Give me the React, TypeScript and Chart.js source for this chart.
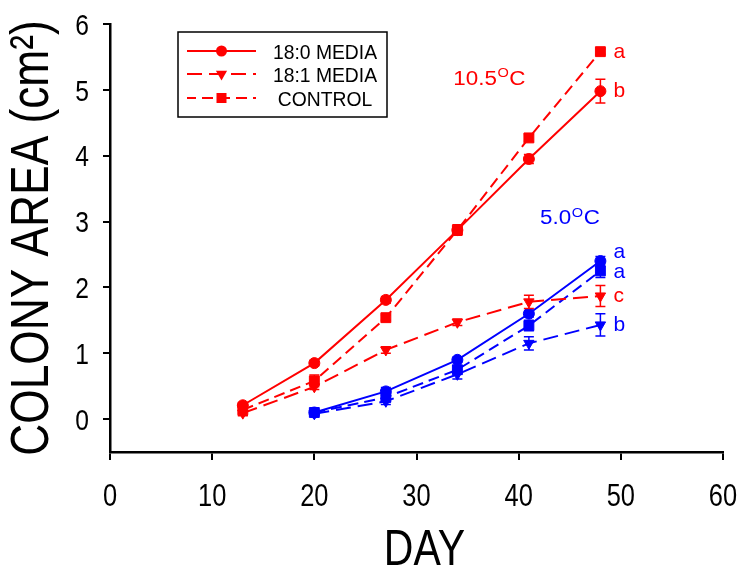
import React, { useEffect, useRef } from "react";
import { Chart, registerables } from "chart.js";

Chart.register(...registerables);

const RED = "#ff0000";
const BLUE = "#0000ff";
const BLACK = "#000000";

// ---- data ----
const warmDays = [13, 20, 27, 34, 41, 48];
const coldDays = [20, 27, 34, 41, 48];

const warm180 = [0.21, 0.85, 1.81, 2.87, 3.95, 4.98];
const warm180Err = [0.04, 0.04, 0.05, 0.05, 0.07, 0.18];
const warm181 = [0.09, 0.49, 1.05, 1.47, 1.78, 1.87];
const warm181Err = [0.04, 0.04, 0.05, 0.05, 0.1, 0.16];
const warmCtl = [0.14, 0.58, 1.54, 2.87, 4.27, 5.58];
const warmCtlErr = [0.08, 0.09, 0.04, 0.08, 0.05, 0.04];

const cold180 = [0.1, 0.42, 0.9, 1.6, 2.4];
const cold180Err = [0.03, 0.06, 0.04, 0.05, 0.07];
const cold181 = [0.08, 0.27, 0.68, 1.15, 1.43];
const cold181Err = [0.02, 0.05, 0.07, 0.1, 0.17];
const coldCtl = [0.1, 0.33, 0.75, 1.42, 2.25];
const coldCtlErr = [0.03, 0.07, 0.06, 0.08, 0.1];

const seriesNames = ["18:0 MEDIA", "18:1 MEDIA", "CONTROL"];

const xTickValues = [0, 10, 20, 30, 40, 50, 60];
const yTickValues = [0, 1, 2, 3, 4, 5, 6];
const xTitle = "DAY";
const yTitle = "COLONY AREA (cm\u00B2)";

const letterTexts = ["a", "b", "a", "a", "c", "b"];
const letterValues = [5.58, 4.98, 2.54, 2.23, 1.87, 1.43];
const letterDay = 48;

const tempTexts = ["10.5", "5.0"];
const tempDays = [33.6, 42.1];
const tempValues = [5.08, 2.96];

// ---- styles ----
const letterColors = [RED, RED, BLUE, BLUE, RED, BLUE];
const tempColors = [RED, BLUE];
const styleSolid: number[] = [];
const style181: number[] = [15, 7];
const styleCtl: number[] = [11, 6];

const SANS = '"Liberation Sans", Arial, Helvetica, sans-serif';

function squeezeText(
  ctx: CanvasRenderingContext2D,
  text: string,
  x: number,
  y: number,
  size: number,
  align: CanvasTextAlign,
  color: string,
  rot = 0,
  sx = 0.82
) {
  ctx.save();
  ctx.translate(x, y);
  if (rot) ctx.rotate(rot);
  ctx.scale(sx, 1);
  ctx.font = `${size}px ${SANS}`;
  ctx.fillStyle = color;
  ctx.textAlign = align;
  ctx.textBaseline = "alphabetic";
  ctx.fillText(text, 0, 0);
  ctx.restore();
}

function drawMarker(ctx: CanvasRenderingContext2D, style: string, x: number, y: number, color: string) {
  ctx.save();
  ctx.fillStyle = color;
  ctx.setLineDash([]);
  ctx.beginPath();
  if (style === "circle") {
    ctx.arc(x, y, 5.5, 0, Math.PI * 2);
  } else if (style === "rect") {
    ctx.rect(x - 5, y - 5, 10, 10);
  } else {
    ctx.moveTo(x - 5.6, y - 3.2);
    ctx.lineTo(x + 5.6, y - 3.2);
    ctx.lineTo(x, y + 6.5);
    ctx.closePath();
  }
  ctx.fill();
  ctx.restore();
}

const errorBarPlugin = {
  id: "errorBars",
  afterDatasetsDraw(chart: any) {
    const { ctx } = chart;
    const xs = chart.scales.x;
    const ys = chart.scales.y;
    chart.data.datasets.forEach((ds: any) => {
      if (!ds.errors) return;
      ctx.save();
      ctx.strokeStyle = ds.borderColor;
      ctx.lineWidth = 1.5;
      ctx.setLineDash([]);
      ds.data.forEach((p: any, j: number) => {
        const e = ds.errors[j];
        if (!e) return;
        const px = xs.getPixelForValue(p.x);
        const t = ys.getPixelForValue(p.y + e);
        const b = ys.getPixelForValue(p.y - e);
        ctx.beginPath();
        ctx.moveTo(px, t);
        ctx.lineTo(px, b);
        ctx.moveTo(px - 5, t);
        ctx.lineTo(px + 5, t);
        ctx.moveTo(px - 5, b);
        ctx.lineTo(px + 5, b);
        ctx.stroke();
      });
      ctx.restore();
    });
  },
};

const textPlugin = {
  id: "texts",
  afterDraw(chart: any) {
    const { ctx } = chart;
    const xs = chart.scales.x;
    const ys = chart.scales.y;

    // tick labels
    xTickValues.forEach((v) => {
      squeezeText(ctx, String(v), xs.getPixelForValue(v), 506, 31, "center", BLACK);
    });
    yTickValues.forEach((v) => {
      const py = ys.getPixelForValue(v);
      squeezeText(ctx, String(v), 89, py + 0.716 * 30 / 2, 30, "right", BLACK);
    });

    // titles
    squeezeText(ctx, xTitle, (xs.left + xs.right) / 2 + 8, 565, 50, "center", BLACK);
    squeezeText(ctx, yTitle, 48, (ys.top + ys.bottom) / 2, 54, "center", BLACK, -Math.PI / 2);

    // significance letters
    letterTexts.forEach((t, i) => {
      const px = xs.getPixelForValue(letterDay) + 13;
      const py = ys.getPixelForValue(letterValues[i]) + 6;
      ctx.save();
      ctx.font = `21px ${SANS}`;
      ctx.fillStyle = letterColors[i];
      ctx.textAlign = "left";
      ctx.textBaseline = "alphabetic";
      ctx.fillText(t, px, py);
      ctx.restore();
    });

    // temperature labels (slightly widened like the original)
    tempTexts.forEach((t, i) => {
      const px0 = xs.getPixelForValue(tempDays[i]);
      const py = ys.getPixelForValue(tempValues[i]);
      ctx.save();
      ctx.translate(px0, py);
      ctx.scale(1.12, 1);
      ctx.fillStyle = tempColors[i];
      ctx.textAlign = "left";
      ctx.textBaseline = "alphabetic";
      ctx.font = `20px ${SANS}`;
      ctx.fillText(t, 0, 0);
      let px = ctx.measureText(t).width + 0.5;
      ctx.font = `13px ${SANS}`;
      ctx.fillText("O", px, -7.5);
      px += ctx.measureText("O").width + 0.5;
      ctx.font = `20px ${SANS}`;
      ctx.fillText("C", px, 0);
      ctx.restore();
    });

    // legend
    const L = 178, T = 32, W = 209, H = 85;
    ctx.save();
    ctx.strokeStyle = BLACK;
    ctx.lineWidth = 1.5;
    ctx.setLineDash([]);
    ctx.strokeRect(L, T, W, H);
    const rows = [51, 74, 98];
    const dashes = [styleSolid, style181, styleCtl];
    const markers = ["circle", "triangle", "rect"];
    rows.forEach((ry, i) => {
      ctx.save();
      ctx.strokeStyle = RED;
      ctx.lineWidth = 2;
      ctx.setLineDash(dashes[i]);
      ctx.lineDashOffset = i === 1 ? 0 : 2;
      ctx.beginPath();
      ctx.moveTo(187, ry);
      ctx.lineTo(256, ry);
      ctx.stroke();
      ctx.restore();
      drawMarker(ctx, markers[i], 221.5, ry, RED);
      squeezeText(ctx, seriesNames[i], 325, ry + 7.5, 21, "center", BLACK, 0, 0.92);
    });
    ctx.restore();
  },
};

function makeSet(label: string, days: number[], vals: number[], errs: number[], color: string, dash: number[], pstyle: string, r: number, rot = 0) {
  return {
    label,
    data: days.map((d, i) => ({ x: d, y: vals[i] })),
    errors: errs,
    borderColor: color,
    backgroundColor: color,
    borderWidth: 2,
    borderDash: dash,
    pointStyle: pstyle,
    pointRadius: r,
    pointBorderWidth: 1,
    pointRotation: rot,
    showLine: true,
    tension: 0,
  } as any;
}

export default function App() {
  const ref = useRef<HTMLCanvasElement | null>(null);

  useEffect(() => {
    document.body.style.margin = "0";
    const canvas = ref.current;
    if (!canvas) return;
    const chart = new Chart(canvas, {
      type: "scatter",
      data: {
        datasets: [
          makeSet(seriesNames[0] + " 10.5", warmDays, warm180, warm180Err, RED, styleSolid, "circle", 5.5),
          makeSet(seriesNames[1] + " 10.5", warmDays, warm181, warm181Err, RED, style181, "triangle", 6, 180),
          makeSet(seriesNames[2] + " 10.5", warmDays, warmCtl, warmCtlErr, RED, styleCtl, "rect", 7),
          makeSet(seriesNames[0] + " 5.0", coldDays, cold180, cold180Err, BLUE, styleSolid, "circle", 5.5),
          makeSet(seriesNames[1] + " 5.0", coldDays, cold181, cold181Err, BLUE, style181, "triangle", 6, 180),
          makeSet(seriesNames[2] + " 5.0", coldDays, coldCtl, coldCtlErr, BLUE, styleCtl, "rect", 7),
        ],
      },
      options: {
        responsive: false,
        animation: false,
        devicePixelRatio: 1,
        layout: { padding: { top: 24, right: 17, bottom: 0, left: 0 } },
        plugins: {
          legend: { display: false },
          tooltip: { enabled: false },
          title: { display: false },
        },
        scales: {
          x: {
            type: "linear",
            min: 0,
            max: 60,
            afterBuildTicks: (s: any) => {
              s.ticks = xTickValues.map((v) => ({ value: v }));
            },
            afterFit: (s: any) => {
              s.height = 116;
            },
            ticks: { display: false },
            grid: { drawOnChartArea: false, drawTicks: true, tickLength: 8, color: BLACK, lineWidth: 2 },
            border: { display: true, color: BLACK, width: 2.5 },
          },
          y: {
            type: "linear",
            min: -0.5,
            max: 6,
            afterBuildTicks: (s: any) => {
              s.ticks = yTickValues.map((v) => ({ value: v }));
            },
            afterFit: (s: any) => {
              s.width = 110;
            },
            ticks: { display: false },
            grid: { drawOnChartArea: false, drawTicks: true, tickLength: 7, color: BLACK, lineWidth: 2 },
            border: { display: true, color: BLACK, width: 2.5 },
          },
        },
      } as any,
      plugins: [errorBarPlugin, textPlugin],
    });
    return () => chart.destroy();
  }, []);

  return (
    <div style={{ width: 740, height: 568, background: "#fff" }}>
      <canvas ref={ref} width={740} height={568} style={{ display: "block" }} />
    </div>
  );
}
